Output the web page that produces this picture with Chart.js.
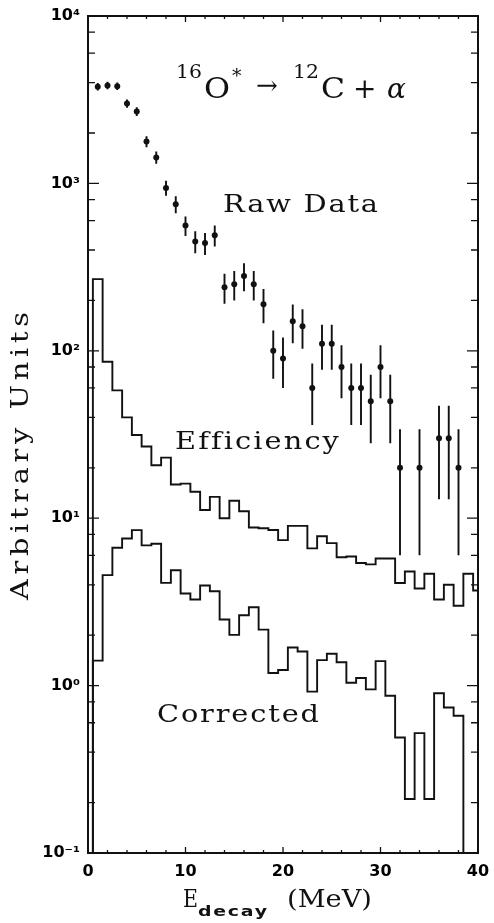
<!DOCTYPE html>
<html>
<head>
<meta charset="utf-8">
<title>16O* decay spectrum</title>
<script src="https://cdn.jsdelivr.net/npm/chart.js@4.4.1/dist/chart.umd.min.js"></script>
<style>
  html, body { margin: 0; padding: 0; background: #fff; }
</style>
</head>
<body>
<canvas id="spectrum" width="494" height="923"></canvas>
<script>
// Bin edges in MeV (1 MeV bins centred on integers, last one cut at 40)
const binEdges = [0.5, 1.5, 2.5, 3.5, 4.5, 5.5, 6.5, 7.5, 8.5, 9.5,
    10.5, 11.5, 12.5, 13.5, 14.5, 15.5, 16.5, 17.5, 18.5, 19.5,
    20.5, 21.5, 22.5, 23.5, 24.5, 25.5, 26.5, 27.5, 28.5, 29.5,
    30.5, 31.5, 32.5, 33.5, 34.5, 35.5, 36.5, 37.5, 38.5, 39.5, 40];

// Raw data points (with error bars)
const rawEnergy = [1, 2, 3, 4, 5, 6, 7, 8, 9, 10, 11, 12, 13, 14, 15, 16, 17, 18, 19, 20,
    21, 22, 23, 24, 25, 26, 27, 28, 29, 30, 31, 32, 34, 36, 37, 38];
const rawCounts = [3780, 3850, 3810, 3000, 2690, 1780, 1430, 940, 750, 560,
    450, 440, 490, 240, 250, 280, 250, 190, 100, 90,
    150, 140, 60, 110, 110, 80, 60, 60, 50, 80,
    50, 20, 20, 30, 30, 20];
const rawErrors = [194, 196, 195, 173, 164, 133, 120, 97, 87, 75,
    67, 66, 70, 49, 50, 53, 50, 44, 32, 30,
    39, 37, 24, 33, 33, 28, 24, 24, 22, 28,
    22, 14, 14, 17, 17, 14];

// Efficiency histogram (one value per bin)
const efficiency = [268, 86, 58, 40, 31.4, 26.8, 20.7, 23, 15.9, 16.1,
    14.4, 11.2, 13.4, 10, 12.7, 11, 8.8, 8.7, 8.5, 7.4,
    9.0, 9.0, 6.6, 7.8, 7.1, 5.85, 5.9, 5.4, 5.3, 5.75,
    5.75, 4.1, 4.8, 3.8, 4.66, 3.27, 4.0, 3.0, 4.66, 3.7];

// Corrected histogram (bins up to 38.5 MeV, empty after)
const corrected = [1.41, 4.57, 6.66, 7.57, 8.49, 6.88, 7.04, 4.11, 4.89, 3.55,
    3.27, 3.96, 3.66, 2.48, 2.01, 2.63, 2.94, 2.16, 1.19, 1.24,
    1.69, 1.60, 0.92, 1.42, 1.55, 1.38, 1.04, 1.11, 0.95, 1.40,
    0.87, 0.49, 0.21, 0.52, 0.21, 0.90, 0.74, 0.66];

// Axis ticks
const yTickValues = [0.1, 1, 10, 100, 1000, 10000];
const yTickLabels = ['10\u207B\u00B9', '10\u2070', '10\u00B9', '10\u00B2', '10\u00B3', '10\u2074'];
const xTickValues = [0, 10, 20, 30, 40];

const Y_MIN = 0.1;
const Y_MAX = 10000;
const INK = '#111';

// Turn per-bin values into points for a stepped line
function histogramPoints(values, dropAtEnd) {
    const pts = [{ x: binEdges[0], y: Y_MIN }];
    values.forEach((v, i) => pts.push({ x: binEdges[i], y: v }));
    const last = binEdges[values.length];
    pts.push({ x: last, y: values[values.length - 1] });
    if (dropAtEnd) pts.push({ x: last, y: Y_MIN });
    return pts;
}

// Draw text to a given width: widen glyphs a bit, then add letter spacing
function fitText(ctx, text, x, y, width, maxStretch = 1.2) {
    ctx.save();
    if ('letterSpacing' in ctx) ctx.letterSpacing = '0px';
    const natural = ctx.measureText(text).width;
    ctx.textAlign = 'left';
    ctx.translate(x, y);
    let stretch = width / natural;
    if ('letterSpacing' in ctx && text.length > 1 && stretch > maxStretch) {
        stretch = maxStretch;
        ctx.letterSpacing = ((width / stretch - natural) / (text.length - 1)).toFixed(2) + 'px';
    }
    ctx.scale(stretch, 1);
    ctx.fillText(text, 0, 0);
    ctx.restore();
}

// Frame, inward tick marks, error bars and all annotation text
const decorations = {
    id: 'decorations',
    beforeDatasetsDraw(chart) {
        const { ctx, scales: { x, y } } = chart;
        ctx.save();
        ctx.strokeStyle = INK;
        ctx.lineWidth = 1.9;
        ctx.beginPath();
        rawEnergy.forEach((e, i) => {
            const px = x.getPixelForValue(e);
            const lo = Math.max(rawCounts[i] - rawErrors[i], Y_MIN);
            ctx.moveTo(px, y.getPixelForValue(rawCounts[i] + rawErrors[i]));
            ctx.lineTo(px, y.getPixelForValue(lo));
        });
        ctx.stroke();
        ctx.restore();
    },
    afterDraw(chart) {
        const { ctx, chartArea: a, scales: { x, y } } = chart;
        ctx.save();
        ctx.strokeStyle = INK;
        ctx.fillStyle = INK;

        // 1. frame
        ctx.lineWidth = 2;
        ctx.strokeRect(a.left, a.top, a.right - a.left, a.bottom - a.top);

        // 2. y ticks, both sides, pointing inward
        ctx.lineWidth = 1.3;
        ctx.beginPath();
        for (let d = 0.1; d <= Y_MAX * 1.01; d *= 10) {
            const py = y.getPixelForValue(d);
            ctx.moveTo(a.left, py); ctx.lineTo(a.left + 11, py);
            ctx.moveTo(a.right, py); ctx.lineTo(a.right - 11, py);
            if (d < Y_MAX * 0.99) {
                [2, 4, 6, 8].forEach(m => {
                    const pm = y.getPixelForValue(d * m);
                    ctx.moveTo(a.left, pm); ctx.lineTo(a.left + 7, pm);
                    ctx.moveTo(a.right, pm); ctx.lineTo(a.right - 7, pm);
                });
            }
        }
        // x ticks, top and bottom
        for (let e = 0; e <= 40; e += 2) {
            const px = x.getPixelForValue(e);
            const len = e % 10 === 0 ? 6 : 3;
            ctx.moveTo(px, a.bottom); ctx.lineTo(px, a.bottom - len);
            ctx.moveTo(px, a.top); ctx.lineTo(px, a.top + len);
        }
        ctx.stroke();

        // 3. curve labels
        ctx.textBaseline = 'alphabetic';
        ctx.font = '24px "DejaVu Serif"';
        fitText(ctx, 'Raw Data', 223, 212, 155);
        fitText(ctx, 'Efficiency', 175, 449, 163);
        fitText(ctx, 'Corrected', 157, 722, 162);

        // 4. reaction title
        ctx.font = '18px "DejaVu Serif"';
        fitText(ctx, '16', 176, 78, 26, 1.35);
        fitText(ctx, '12', 293, 78, 26, 1.35);
        ctx.font = '28px "DejaVu Serif"';
        fitText(ctx, 'O', 204, 98, 26, 1.3);
        fitText(ctx, 'C', 321, 98, 24, 1.3);
        ctx.fillText('+', 353, 98);
        ctx.font = '19px "DejaVu Serif"';
        ctx.fillText('*', 232, 82);
        ctx.font = '26px "DejaVu Serif"';
        ctx.fillText('\u2192', 256, 94);
        ctx.font = 'italic 28px "DejaVu Serif"';
        ctx.fillText('\u03B1', 387, 98);

        // 5. axis titles
        ctx.font = '24px "DejaVu Serif"';
        fitText(ctx, 'E', 183, 907, 15, 1.1);
        fitText(ctx, '(MeV)', 287, 907, 85);
        ctx.font = 'bold 14px "DejaVu Sans"';
        fitText(ctx, 'decay', 198, 916, 69, 1.35);

        ctx.save();
        ctx.translate(28, 456);
        ctx.rotate(-Math.PI / 2);
        ctx.font = '24px "DejaVu Serif"';
        fitText(ctx, 'Arbitrary Units', -144, 0, 288);
        ctx.restore();

        ctx.restore();
    }
};

const ctx = document.getElementById('spectrum').getContext('2d');

new Chart(ctx, {
    type: 'line',
    data: {
        datasets: [
            {
                label: 'Raw Data',
                data: rawEnergy.map((e, i) => ({ x: e, y: rawCounts[i] })),
                showLine: false,
                pointRadius: 3,
                pointBackgroundColor: INK,
                pointBorderWidth: 0
            },
            {
                label: 'Efficiency',
                data: histogramPoints(efficiency, false),
                stepped: true,
                borderColor: INK,
                borderWidth: 1.9,
                pointRadius: 0,
                fill: false
            },
            {
                label: 'Corrected',
                data: histogramPoints(corrected, true),
                stepped: true,
                borderColor: INK,
                borderWidth: 1.9,
                pointRadius: 0,
                fill: false
            }
        ]
    },
    options: {
        responsive: false,
        devicePixelRatio: 1,
        animation: false,
        events: [],
        layout: { padding: { top: 16, right: 16, bottom: 0, left: 0 } },
        plugins: {
            legend: { display: false },
            tooltip: { enabled: false }
        },
        scales: {
            x: {
                type: 'linear',
                min: 0,
                max: 40,
                grid: { display: false, drawTicks: false },
                border: { display: false },
                afterBuildTicks: s => { s.ticks = xTickValues.map(v => ({ value: v })); },
                afterFit: s => { s.height = 70; s.paddingLeft = 0; s.paddingRight = 0; },
                ticks: {
                    color: '#000',
                    padding: 9,
                    maxRotation: 0,
                    font: { family: 'DejaVu Sans', weight: 'bold', size: 16 }
                }
            },
            y: {
                type: 'logarithmic',
                min: Y_MIN,
                max: Y_MAX,
                grid: { display: false, drawTicks: false },
                border: { display: false },
                afterBuildTicks: s => { s.ticks = yTickValues.map(v => ({ value: v })); },
                afterFit: s => { s.width = 88; s.paddingTop = 0; s.paddingBottom = 0; },
                ticks: {
                    color: '#000',
                    padding: 8,
                    font: { family: 'DejaVu Sans', weight: 'bold', size: 16 },
                    callback: v => {
                        const i = yTickValues.indexOf(v);
                        return i >= 0 ? yTickLabels[i] : '';
                    }
                }
            }
        }
    },
    plugins: [decorations]
});
</script>
</body>
</html>
